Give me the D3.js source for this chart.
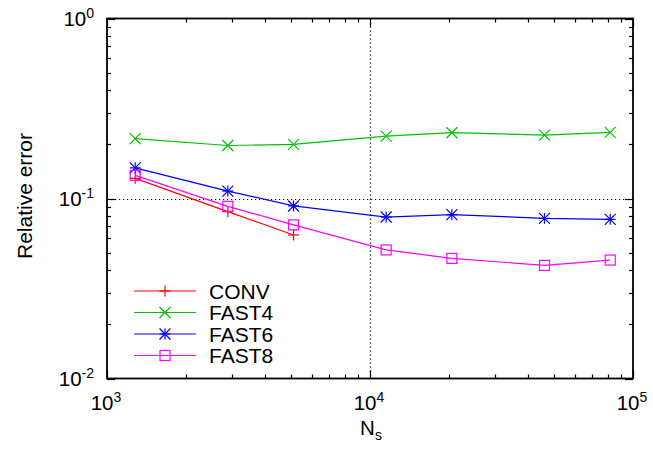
<!DOCTYPE html>
<html>
<head>
<meta charset="utf-8">
<script src="https://cdn.jsdelivr.net/npm/d3@7"></script>
<style>
  body { margin: 0; background: #fff; }
  svg { display: block; font-family: "Liberation Sans", Arial, sans-serif; }
</style>
</head>
<body>
<svg id="chart" width="653" height="449"></svg>
<script>
// sample sizes (x) and relative errors per method
const ns = [1280, 2880, 5120, 11520, 20480, 46080, 81920];
const conv = [0.1294, 0.0845, 0.0627];
const fast4 = [0.215, 0.197, 0.200, 0.222, 0.232, 0.225, 0.233];
const fast6 = [0.148, 0.110, 0.0909, 0.0789, 0.0813, 0.0776, 0.0766];
const fast8 = [0.1345, 0.0905, 0.0713, 0.0518, 0.0465, 0.0425, 0.0455];
const xDecades = [3, 4, 5];
const yDecades = [-2, -1, 0];

const series = [
  { name: "CONV", values: conv, color: "#ff0000", marker: "plus" },
  { name: "FAST4", values: fast4, color: "#00c000", marker: "cross" },
  { name: "FAST6", values: fast6, color: "#0000ff", marker: "star" },
  { name: "FAST8", values: fast8, color: "#ff00ff", marker: "square" }
];

const margin = { left: 107, right: 20, top: 18.5, bottom: 70.5 };
const width = 653, height = 449;
const svg = d3.select("#chart");

const x = d3.scaleLog().domain([1e3, 1e5]).range([margin.left, width - margin.right]);
const y = d3.scaleLog().domain([1e-2, 1e0]).range([height - margin.bottom, margin.top]);

// minor tick values for log axes
function minorTicks(decades) {
  const out = [];
  for (let i = 0; i < decades.length - 1; i++) {
    for (let m = 2; m <= 9; m++) out.push(m * Math.pow(10, decades[i]));
  }
  return out;
}

const x0 = x.range()[0], x1 = x.range()[1];
const y0 = y.range()[0], y1 = y.range()[1];

// grid (dotted) at major ticks
const grid = svg.append("g").attr("stroke", "#000").attr("stroke-width", 1.2)
  .attr("stroke-dasharray", "1.2,2.8");
xDecades.slice(1, -1).forEach(d => {
  const px = Math.round(x(Math.pow(10, d))) + 0.5;
  grid.append("line").attr("x1", px).attr("x2", px).attr("y1", y1).attr("y2", y0);
});
yDecades.slice(1, -1).forEach(d => {
  const py = Math.round(y(Math.pow(10, d))) + 0.5;
  grid.append("line").attr("x1", x0).attr("x2", x1).attr("y1", py).attr("y2", py);
});

// ticks on all four sides, pointing inward
const ticks = svg.append("g").attr("stroke", "#000").attr("stroke-width", 1.2);
const xMajor = xDecades.map(d => Math.pow(10, d));
const yMajor = yDecades.map(d => Math.pow(10, d));
function addXTicks(vals, len) {
  vals.forEach(v => {
    const px = Math.round(x(v)) + 0.5;
    ticks.append("line").attr("x1", px).attr("x2", px).attr("y1", y0).attr("y2", y0 - len);
    ticks.append("line").attr("x1", px).attr("x2", px).attr("y1", y1).attr("y2", y1 + len);
  });
}
function addYTicks(vals, len) {
  vals.forEach(v => {
    const py = Math.round(y(v)) + 0.5;
    ticks.append("line").attr("x1", x0).attr("x2", x0 + len).attr("y1", py).attr("y2", py);
    ticks.append("line").attr("x1", x1).attr("x2", x1 - len).attr("y1", py).attr("y2", py);
  });
}
addXTicks(xMajor, 8);
addXTicks(minorTicks(xDecades), 4);
addYTicks(yMajor, 8);
addYTicks(minorTicks(yDecades), 4);

// frame
svg.append("rect").attr("x", x0).attr("y", y1).attr("width", x1 - x0).attr("height", y0 - y1)
  .attr("fill", "none").attr("stroke", "#000").attr("stroke-width", 1.8);

// tick labels
xDecades.forEach(d => {
  const t = svg.append("text").attr("x", x(Math.pow(10, d)) - 1).attr("y", 410)
    .attr("text-anchor", "middle").attr("font-size", 20.5).attr("fill", "#000");
  t.append("tspan").text("10");
  t.append("tspan").attr("font-size", 14).attr("dy", -8).text(d);
});
yDecades.forEach(d => {
  const t = svg.append("text").attr("x", 94).attr("y", y(Math.pow(10, d)) + 7)
    .attr("text-anchor", "end").attr("font-size", 20.5).attr("fill", "#000");
  t.append("tspan").text("10");
  t.append("tspan").attr("font-size", 14).attr("dy", -8).text(d);
});

// axis titles
const xt = svg.append("text").attr("x", 371).attr("y", 435).attr("text-anchor", "middle")
  .attr("font-size", 20.5).attr("fill", "#000");
xt.append("tspan").text("N");
xt.append("tspan").attr("font-size", 14).attr("dy", 5).text("s");
svg.append("text").attr("transform", "translate(32,196) rotate(-90)")
  .attr("text-anchor", "middle").attr("font-size", 21).attr("fill", "#000")
  .text("Relative error");

// marker drawing
function drawMarker(g, kind, cx, cy, color) {
  const r = 5.5;
  const s = g.append("g").attr("stroke", color).attr("stroke-width", 1.2).attr("fill", "none");
  if (kind === "plus" || kind === "star") {
    s.append("line").attr("x1", cx - r).attr("x2", cx + r).attr("y1", cy).attr("y2", cy);
    s.append("line").attr("x1", cx).attr("x2", cx).attr("y1", cy - r).attr("y2", cy + r);
  }
  if (kind === "cross" || kind === "star") {
    s.append("line").attr("x1", cx - r).attr("x2", cx + r).attr("y1", cy - r).attr("y2", cy + r);
    s.append("line").attr("x1", cx - r).attr("x2", cx + r).attr("y1", cy + r).attr("y2", cy - r);
  }
  if (kind === "square") {
    s.append("rect").attr("x", cx - 5).attr("y", cy - 5).attr("width", 10).attr("height", 10);
  }
}

const line = d3.line().x(d => x(d[0])).y(d => y(d[1]));
const plot = svg.append("g");
series.forEach(sr => {
  const pts = sr.values.map((v, i) => [ns[i], v]);
  plot.append("path").datum(pts).attr("d", line).attr("fill", "none")
    .attr("stroke", sr.color).attr("stroke-width", 1.2);
  pts.forEach(p => drawMarker(plot, sr.marker, x(p[0]), y(p[1]), sr.color));
});

// legend
const legend = svg.append("g");
series.forEach((sr, i) => {
  const ly = 291 + i * 21.5;
  legend.append("line").attr("x1", 134).attr("x2", 196).attr("y1", ly).attr("y2", ly)
    .attr("stroke", sr.color).attr("stroke-width", 1.2);
  drawMarker(legend, sr.marker, 165, ly, sr.color);
  legend.append("text").attr("x", 209).attr("y", ly + 7.5).attr("font-size", 21)
    .attr("fill", "#000").text(sr.name);
});
</script>
</body>
</html>
